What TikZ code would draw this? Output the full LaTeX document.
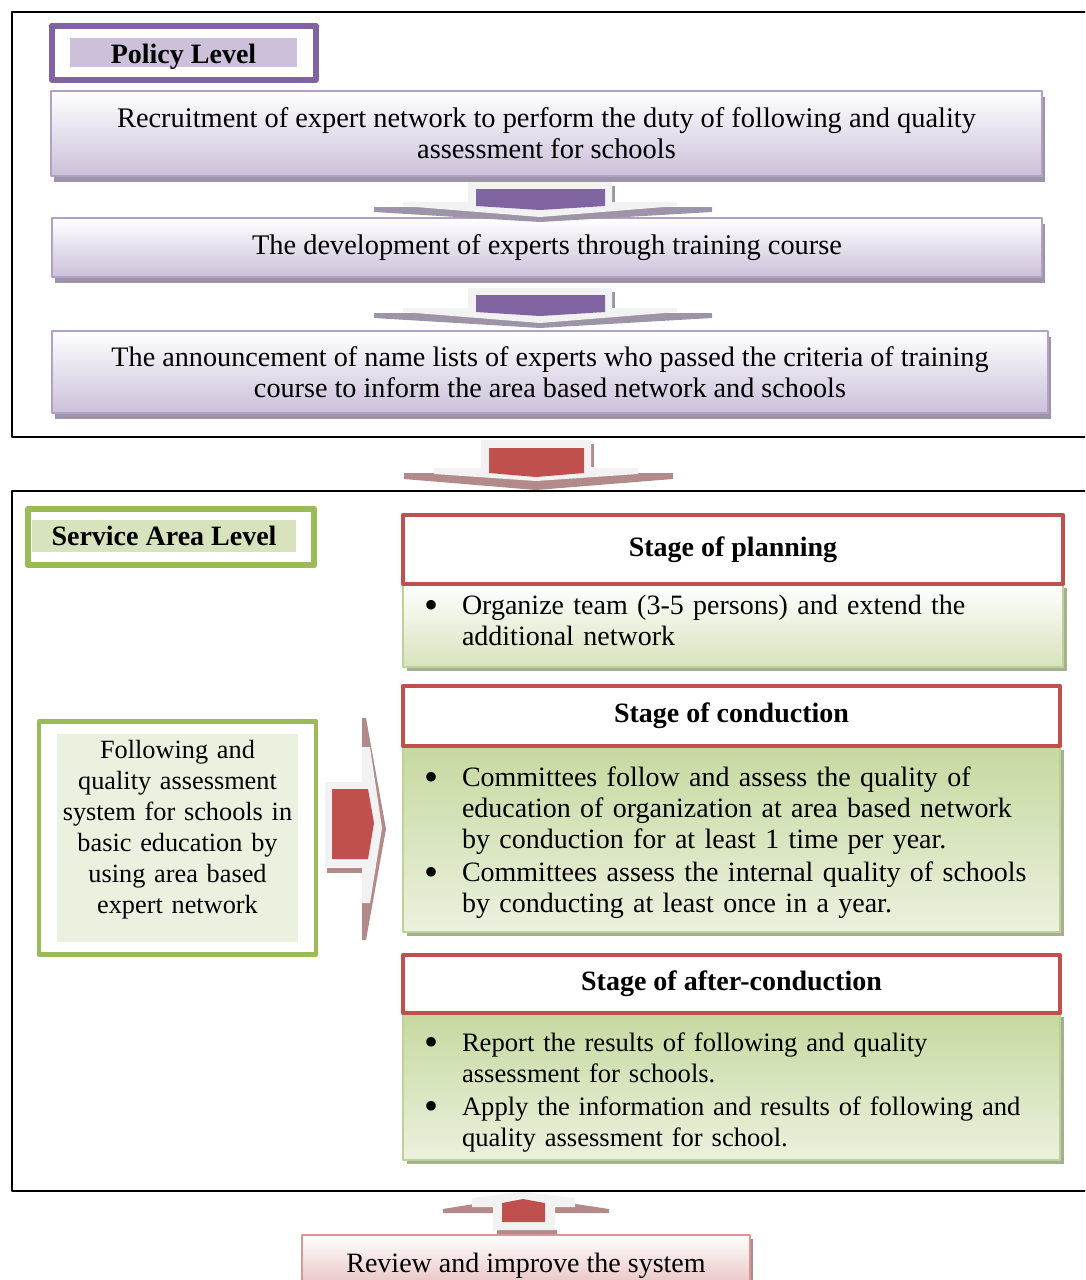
\documentclass[tikz,border=0pt]{standalone}
\usepackage{fontspec}
\setmainfont{Liberation Serif}
\usetikzlibrary{shadows,fit}

\definecolor{purp}{RGB}{128,100,162}
\definecolor{lav}{RGB}{204,192,218}
\definecolor{lavline}{RGB}{178,161,199}
\definecolor{pshad}{RGB}{158,148,168}
\definecolor{agray}{RGB}{242,242,242}
\definecolor{redc}{RGB}{192,80,77}
\definecolor{rshad}{RGB}{178,138,138}
\definecolor{grn}{RGB}{155,187,89}
\definecolor{lgrn}{RGB}{215,227,188}
\definecolor{vlgrn}{RGB}{235,241,222}
\definecolor{mgrn}{RGB}{198,217,160}
\definecolor{gline}{RGB}{190,210,150}
\definecolor{gshad}{RGB}{165,175,145}
\definecolor{pinkline}{RGB}{217,150,148}
\definecolor{pinkf}{RGB}{228,182,181}

\newcommand\bitem{\noindent\hangindent=38pt\hangafter=1\makebox[38pt][l]{\raisebox{-4pt}{\fontsize{40}{31}\selectfont\textbullet}}}
\newcommand\nitem{\par\vspace{2pt}\bitem}

\tikzset{
  txt/.style={font=\fontsize{28}{31}\selectfont},
  lvl/.style={anchor=north west, inner sep=0pt, text depth=0pt, font=\bfseries\fontsize{28}{31}\selectfont},
  pbox/.style={txt, anchor=north west, draw=lavline, line width=1.5pt, top color=white, bottom color=lav,
    drop shadow={shadow xshift=3pt, shadow yshift=-6pt, fill=pshad, opacity=1}, align=center, inner sep=0pt},
  hdr/.style={anchor=north west, draw=redc, line width=4.5pt, fill=white, font=\bfseries\fontsize{28}{31}\selectfont},
  gbody/.style={txt, anchor=north west, draw=gline, line width=1.5pt,
    drop shadow={shadow xshift=4pt, shadow yshift=-4pt, fill=gshad, opacity=1},
    inner xsep=21pt, inner ysep=0pt},
}

\begin{document}
\begin{tikzpicture}[line cap=round,line join=round,x=1pt,y=-1pt,outer sep=0pt]
\useasboundingbox (0,0) rectangle (1085,1280);
\clip (0,0) rectangle (1085,1280);
% outer frames
\draw [line width=2pt] (12,12) rectangle (1100,437);
\draw [line width=2pt] (12,491) rectangle (1100,1191);

% policy level
\node[lvl, fill=lav, minimum width=227pt, minimum height=29pt, text height=21pt] (policy) at (70,38) {Policy Level};
\node[draw=purp, line width=6pt, inner xsep=18.5pt, inner ysep=12.5pt, fit=(policy)] (policyfr) {};
\node[pbox, minimum width=991pt, minimum height=85pt, font=\fontsize{28.4}{31}\selectfont] (recruit) at (51,91) {Recruitment of expert network to perform the duty of following and quality\\assessment for schools};
\node[pbox, minimum width=990pt, minimum height=59pt, font=\fontsize{28.4}{31}\selectfont] (develop) at (52,218) {The development of experts through training course};
\node[pbox, minimum width=996pt, minimum height=82pt, font=\fontsize{28.2}{31}\selectfont] (announce) at (52,331) {The announcement of name lists of experts who passed the criteria of training\\course to inform the area based network and schools};

% purple arrows
\foreach \dy in {0,106}{
  \begin{scope}[yshift=-\dy pt]
  \fill [pshad] (374,207) -- (712,207) -- (712,212) -- (540,222) -- (374,212) -- cycle;
  \fill [pshad] (612,186) rectangle (615,203);
  \fill [agray] (468,182) -- (612,182) -- (612,202) -- (677,202) -- (677,206) -- (540,217) -- (403,206) -- (403,202) -- (468,202) -- cycle;
  \fill [purp] (476,189) -- (605,189) -- (605,206) -- (540,210) -- (476,206) -- cycle;
  \end{scope}
}

% red arrow between levels
\fill [rshad] (404,473) -- (673,473) -- (673,479) -- (536,490) -- (404,479) -- cycle;
\fill [rshad] (591,444) rectangle (594,467);
\fill [agray] (481,440) -- (591,440) -- (591,468) -- (638,468) -- (638,474) -- (536,481) -- (434,474) -- (434,468) -- (481,468) -- cycle;
\fill [redc] (489,448) -- (584,448) -- (584,473) -- (536,477) -- (489,473) -- cycle;

% service area level
\node[lvl, fill=lgrn, minimum width=264pt, minimum height=32pt] (svc) at (32,520) {Service Area Level};
\node[draw=grn, line width=6pt, inner sep=0pt, fit={([shift={(-4pt,11.5pt)}]svc.north west) ([shift={(18pt,-13pt)}]svc.south east)}] (svcfr) {};

\node[anchor=north west, fill=vlgrn, inner sep=0pt, text width=241pt, align=center, text height=24pt, text depth=184pt,
  font=\fontsize{26.3}{31}\selectfont] (sys) at (57,734) {Following and\\quality assessment\\system for schools in\\basic education by\\using area based\\expert network};
\node[draw=grn, line width=4.5pt, inner xsep=18pt, inner ysep=12.5pt, fit=(sys)] (sysfr) {};

% right arrow
\fill [rshad] (362,718) -- (366,718) -- (386,829) -- (366,940) -- (362,940) -- cycle;
\fill [rshad] (327,868) rectangle (362,873);
\fill [agray] (325,782) -- (362,782) -- (362,747) -- (370,747) -- (382,828) -- (370,903) -- (362,903) -- (362,867) -- (325,867) -- cycle;
\fill [redc] (332,789) -- (368,789) -- (374,823) -- (368,859) -- (332,859) -- cycle;

% stages
\node[gbody, top color=white, bottom color=lgrn, text width=618pt, text height=30pt, text depth=53pt] (planbody) at (403,584)
  {\bitem Organize team (3-5 persons) and extend the\newline additional network\par};
\node[hdr, minimum width=660pt, minimum height=69pt] (plan) at (403,515) {Stage of planning};

\node[gbody, top color=mgrn, bottom color=vlgrn, text width=615pt, text height=40pt, text depth=146pt] (condbody) at (403,746)
  {\bitem Committees follow and assess the quality of\newline education of organization at area based network\newline by conduction for at least 1 time per year.
   \nitem Committees assess the internal quality of schools\newline by conducting at least once in a year.\par};
\node[hdr, minimum width=657pt, minimum height=60pt] (cond) at (403,686) {Stage of conduction};

\node[gbody, top color=mgrn, bottom color=vlgrn, text width=615pt, text height=38pt, text depth=109pt,
  font=\fontsize{26.6}{31}\selectfont] (afterbody) at (403,1013)
  {\bitem Report the results of following and quality\newline assessment for schools.
   \nitem Apply the information and results of following and\newline quality assessment for school.\par};
\node[hdr, minimum width=657pt, minimum height=58pt] (after) at (403,955) {Stage of after-conduction};

% up arrow
\fill [rshad] (443,1209) -- (523,1196) -- (609,1209) -- (609,1213) -- (443,1213) -- cycle;
\fill [rshad] (497,1230) rectangle (557,1235);
\fill [agray] (523,1192) -- (575,1198) -- (575,1207) -- (555,1207) -- (555,1230) -- (493,1230) -- (493,1207) -- (472,1207) -- (472,1198) -- cycle;
\fill [redc] (502,1203) -- (523,1199) -- (545,1203) -- (545,1222) -- (502,1222) -- cycle;

\node[txt, anchor=north west, draw=pinkline, line width=1.5pt, top color=white, bottom color=pinkf,
  drop shadow={shadow xshift=3pt, shadow yshift=-4pt, fill=rshad, opacity=1},
  minimum width=448pt, minimum height=62pt] (review) at (302,1235) {Review and improve the system};
\end{tikzpicture}
\end{document}
